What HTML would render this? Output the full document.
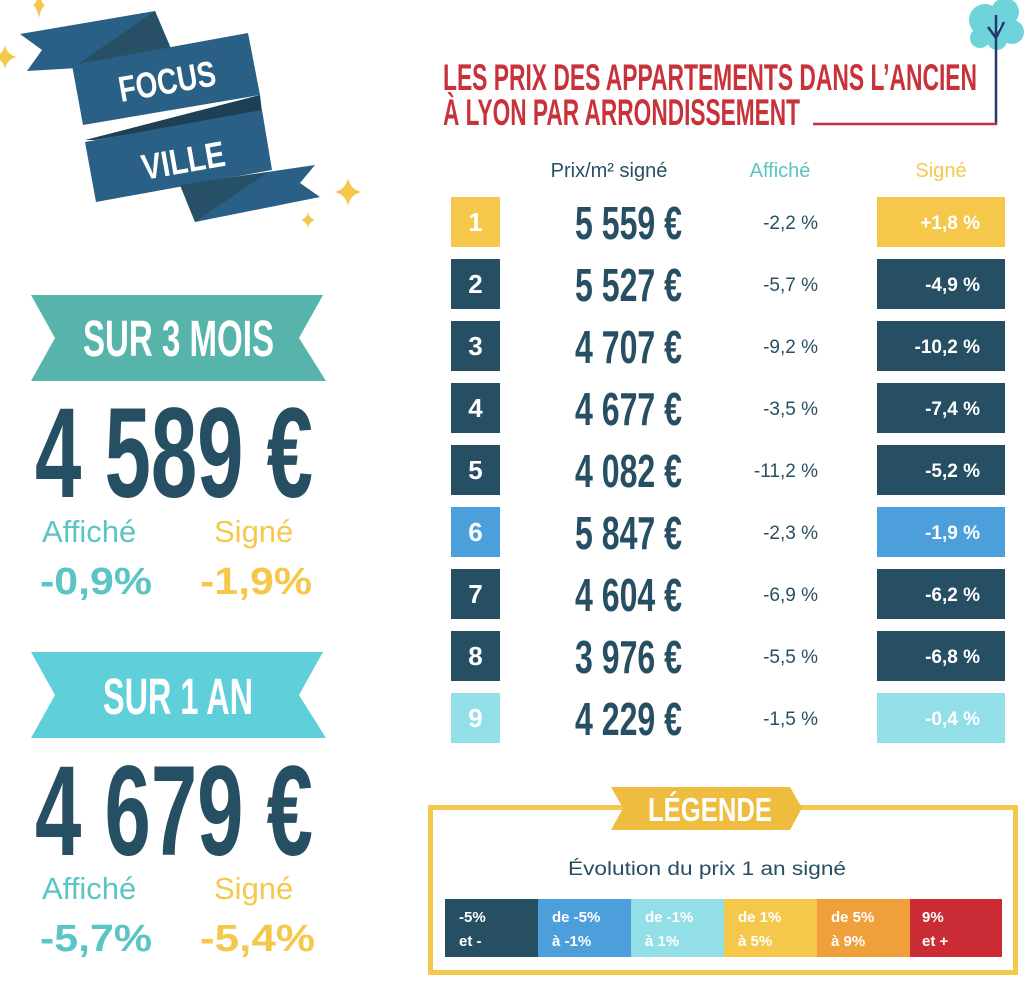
<!DOCTYPE html>
<html><head><meta charset="utf-8"><style>
html,body{margin:0;padding:0;background:#fff;}
svg{display:block;}
.c{font-family:"Liberation Sans",sans-serif;font-weight:bold;}
.n{font-family:"Liberation Sans",sans-serif;}
</style></head><body>
<svg width="1024" height="987" viewBox="0 0 1024 987" xmlns="http://www.w3.org/2000/svg">
<g fill="#f5c84c">
<path d="M5 45 Q7 55 17 57 Q7 59 5 69 Q3 59 -7 57 Q3 55 5 45Z"/>
<path d="M39 -10 Q41 4 45 5 Q41 8 39 18 Q37 8 33 5 Q37 4 39 -10Z"/>
<path d="M348 178 Q350 189 361 192 Q350 195 348 206 Q346 195 335 192 Q346 189 348 178Z"/>
<path d="M308 212 Q309 218 315 220 Q309 222 308 228 Q307 222 301 220 Q307 218 308 212Z"/>
</g>
<polygon points="20,34 155,11 175,58 78,68 27,71 42,50" fill="#2a5f86"/>
<polygon points="78,64 155,11 175,58" fill="#275067"/>
<polygon points="72,65 248,33 260,95 83,125" fill="#2a5f86"/>
<polygon points="85,140 260,95 262,112 95,140" fill="#1f3f55"/>
<polygon points="85,142 262,110 272,170 96,202" fill="#2a5f86"/>
<polygon points="180,185 315,165 300,183 320,197 195,222" fill="#2a5f86"/>
<polygon points="180,185 268,172 195,222" fill="#275067"/>
<text class="c" x="0" y="0" fill="#fff" font-size="36" textLength="98" lengthAdjust="spacingAndGlyphs" transform="translate(121,102) rotate(-10)">FOCUS</text>
<text class="c" x="0" y="0" fill="#fff" font-size="36" textLength="84" lengthAdjust="spacingAndGlyphs" transform="translate(144,180) rotate(-10)">VILLE</text>

<polygon points="31,295 323,295 299,338 326,381 31,381 55,338" fill="#57b4ab"/>
<text class="c" x="83" y="356" fill="#fff" font-size="51" textLength="191" lengthAdjust="spacingAndGlyphs">SUR 3 MOIS</text>
<text class="c" x="35" y="497" fill="#274f63" font-size="128" textLength="278" lengthAdjust="spacingAndGlyphs">4 589 €</text>
<text class="n" x="42" y="542" fill="#5bc4c4" font-size="31">Affiché</text>
<text class="n" x="214" y="542" fill="#f5c84c" font-size="31">Signé</text>
<text class="c" x="40" y="594" fill="#5bc4c4" font-size="38" textLength="112" lengthAdjust="spacingAndGlyphs">-0,9%</text>
<text class="c" x="200" y="594" fill="#f5c84c" font-size="38" textLength="112" lengthAdjust="spacingAndGlyphs">-1,9%</text>

<polygon points="31,652 323,652 299,695 326,738 31,738 55,695" fill="#5fcfd9"/>
<text class="c" x="103" y="714" fill="#fff" font-size="51" textLength="150" lengthAdjust="spacingAndGlyphs">SUR 1 AN</text>
<text class="c" x="35" y="855" fill="#274f63" font-size="128" textLength="278" lengthAdjust="spacingAndGlyphs">4 679 €</text>
<text class="n" x="42" y="899" fill="#5bc4c4" font-size="31">Affiché</text>
<text class="n" x="214" y="899" fill="#f5c84c" font-size="31">Signé</text>
<text class="c" x="40" y="951" fill="#5bc4c4" font-size="38" textLength="112" lengthAdjust="spacingAndGlyphs">-5,7%</text>
<text class="c" x="200" y="951" fill="#f5c84c" font-size="38" textLength="115" lengthAdjust="spacingAndGlyphs">-5,4%</text>

<g fill="#6fd3dc">
<circle cx="985" cy="20" r="16"/><circle cx="1005" cy="12" r="14"/><circle cx="1012" cy="32" r="12"/><circle cx="980" cy="38" r="10"/><circle cx="997" cy="40" r="10"/>
</g>
<path d="M996 15 V125 M988 27 L996 38 L1004 22" stroke="#26396b" stroke-width="2.5" fill="none"/>
<line x1="813" y1="124" x2="997" y2="124" stroke="#c8323a" stroke-width="2.5"/>
<text class="c" x="443" y="90" fill="#c8323a" font-size="37" textLength="534" lengthAdjust="spacingAndGlyphs">LES PRIX DES APPARTEMENTS DANS L’ANCIEN</text>
<text class="c" x="443" y="125" fill="#c8323a" font-size="37" textLength="357" lengthAdjust="spacingAndGlyphs">À LYON PAR ARRONDISSEMENT</text>

<text class="n" x="609" y="177" fill="#274f63" font-size="20" text-anchor="middle">Prix/m² signé</text>
<text class="n" x="780" y="177" fill="#5bc4c4" font-size="20" text-anchor="middle">Affiché</text>
<text class="n" x="941" y="177" fill="#f5c84c" font-size="20" text-anchor="middle">Signé</text>

<g>
<rect x="451" y="197" width="49" height="50" fill="#f5c84c"/><rect x="877" y="197" width="128" height="50" fill="#f5c84c"/>
<rect x="451" y="259" width="49" height="50" fill="#274f63"/><rect x="877" y="259" width="128" height="50" fill="#274f63"/>
<rect x="451" y="321" width="49" height="50" fill="#274f63"/><rect x="877" y="321" width="128" height="50" fill="#274f63"/>
<rect x="451" y="383" width="49" height="50" fill="#274f63"/><rect x="877" y="383" width="128" height="50" fill="#274f63"/>
<rect x="451" y="445" width="49" height="50" fill="#274f63"/><rect x="877" y="445" width="128" height="50" fill="#274f63"/>
<rect x="451" y="507" width="49" height="50" fill="#4d9fdc"/><rect x="877" y="507" width="128" height="50" fill="#4d9fdc"/>
<rect x="451" y="569" width="49" height="50" fill="#274f63"/><rect x="877" y="569" width="128" height="50" fill="#274f63"/>
<rect x="451" y="631" width="49" height="50" fill="#274f63"/><rect x="877" y="631" width="128" height="50" fill="#274f63"/>
<rect x="451" y="693" width="49" height="50" fill="#93dfe8"/><rect x="877" y="693" width="128" height="50" fill="#93dfe8"/>
</g>
<g class="c" fill="#fff" font-size="26" text-anchor="middle">
<text x="475.5" y="231">1</text><text x="475.5" y="293">2</text><text x="475.5" y="355">3</text><text x="475.5" y="417">4</text><text x="475.5" y="479">5</text><text x="475.5" y="541">6</text><text x="475.5" y="603">7</text><text x="475.5" y="665">8</text><text x="475.5" y="727">9</text>
</g>
<g class="c" fill="#274f63" font-size="46">
<text x="575" y="239" textLength="107" lengthAdjust="spacingAndGlyphs">5 559 €</text>
<text x="575" y="301" textLength="107" lengthAdjust="spacingAndGlyphs">5 527 €</text>
<text x="575" y="363" textLength="107" lengthAdjust="spacingAndGlyphs">4 707 €</text>
<text x="575" y="425" textLength="107" lengthAdjust="spacingAndGlyphs">4 677 €</text>
<text x="575" y="487" textLength="107" lengthAdjust="spacingAndGlyphs">4 082 €</text>
<text x="575" y="549" textLength="107" lengthAdjust="spacingAndGlyphs">5 847 €</text>
<text x="575" y="611" textLength="107" lengthAdjust="spacingAndGlyphs">4 604 €</text>
<text x="575" y="673" textLength="107" lengthAdjust="spacingAndGlyphs">3 976 €</text>
<text x="575" y="735" textLength="107" lengthAdjust="spacingAndGlyphs">4 229 €</text>
</g>
<g class="n" fill="#274f63" font-size="19" text-anchor="end">
<text x="818" y="229">-2,2 %</text><text x="818" y="291">-5,7 %</text><text x="818" y="353">-9,2 %</text><text x="818" y="415">-3,5 %</text><text x="818" y="477">-11,2 %</text><text x="818" y="539">-2,3 %</text><text x="818" y="601">-6,9 %</text><text x="818" y="663">-5,5 %</text><text x="818" y="725">-1,5 %</text>
</g>
<g class="c" fill="#fff" font-size="19" text-anchor="end">
<text x="980" y="229">+1,8 %</text><text x="980" y="291">-4,9 %</text><text x="980" y="353">-10,2 %</text><text x="980" y="415">-7,4 %</text><text x="980" y="477">-5,2 %</text><text x="980" y="539">-1,9 %</text><text x="980" y="601">-6,2 %</text><text x="980" y="663">-6,8 %</text><text x="980" y="725">-0,4 %</text>
</g>

<rect x="430.5" y="807.5" width="585" height="165" fill="none" stroke="#f5c84c" stroke-width="5"/>
<polygon points="611,787 790,787 802,808 790,830 611,830 623,808" fill="#eebc3e"/>
<text class="c" x="648" y="821" fill="#fff" font-size="33" textLength="124" lengthAdjust="spacingAndGlyphs">LÉGENDE</text>
<text class="n" x="568" y="875" fill="#274f63" font-size="19" textLength="278" lengthAdjust="spacingAndGlyphs">Évolution du prix 1 an signé</text>
<rect x="445" y="899" width="93" height="58" fill="#274f63"/>
<rect x="538" y="899" width="93" height="58" fill="#4d9fdc"/>
<rect x="631" y="899" width="93" height="58" fill="#93dfe8"/>
<rect x="724" y="899" width="93" height="58" fill="#f5c84c"/>
<rect x="817" y="899" width="93" height="58" fill="#f0a03a"/>
<rect x="910" y="899" width="92" height="58" fill="#c92c34"/>
<g class="c" fill="#fff" font-size="15">
<text x="459" y="922">-5%</text><text x="459" y="946">et -</text>
<text x="552" y="922">de -5%</text><text x="552" y="946">à -1%</text>
<text x="645" y="922">de -1%</text><text x="645" y="946">à 1%</text>
<text x="738" y="922">de 1%</text><text x="738" y="946">à 5%</text>
<text x="831" y="922">de 5%</text><text x="831" y="946">à 9%</text>
<text x="922" y="922">9%</text><text x="922" y="946">et +</text>
</g>
</svg>
</body></html>
